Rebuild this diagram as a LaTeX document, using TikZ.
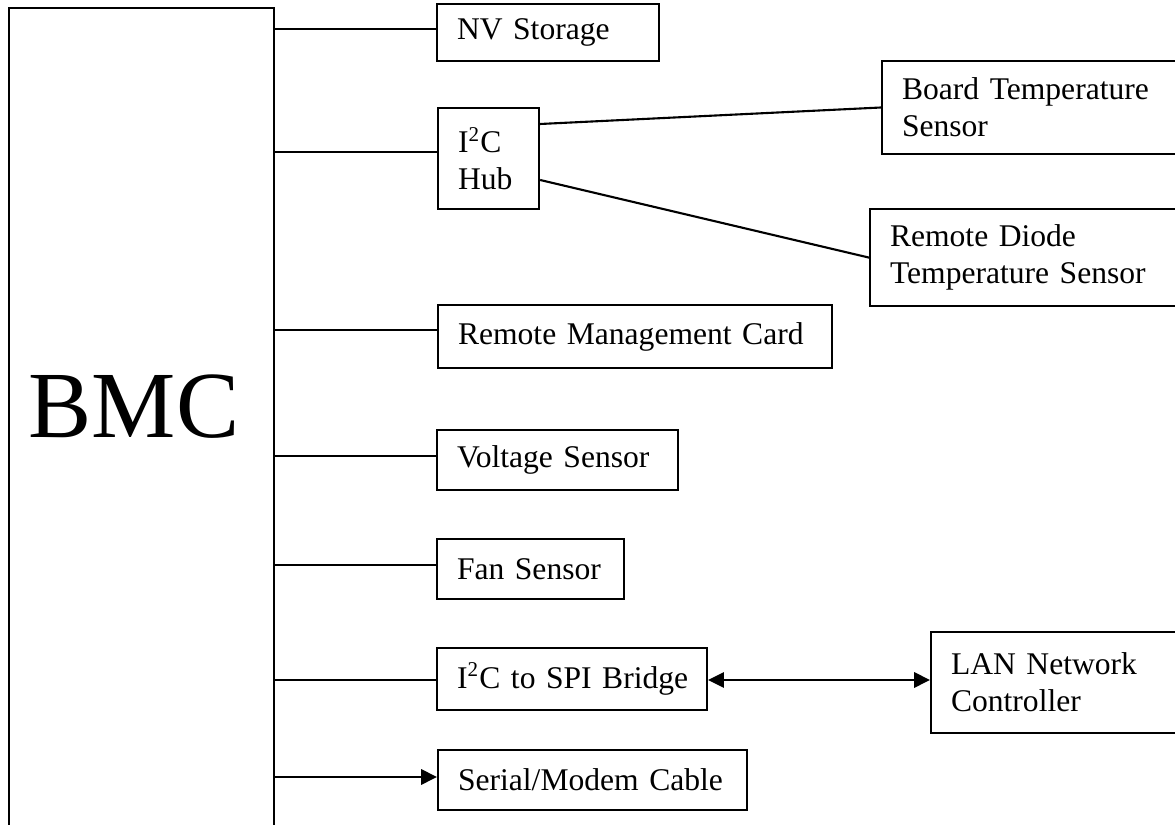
\documentclass[tikz,border=0pt]{standalone}
\usepackage{fontspec}
\setmainfont{Liberation Serif}
\usetikzlibrary{arrows.meta}
\tikzset{
  blk/.style={draw, line width=0.8pt, rectangle, anchor=north west, inner xsep=7.6pt, inner ysep=0pt, align=left, font=\fontsize{12}{14}\selectfont},
  conn/.style={line width=0.8pt},
  tip/.style={-{Triangle[length=6pt,width=5.8pt]}},
  dtip/.style={{Triangle[length=6pt,width=5.8pt]}-{Triangle[length=6pt,width=5.8pt]}}
}
\begin{document}
\begin{tikzpicture}[x=0.38pt, y=-0.38pt]
\useasboundingbox (0,0) rectangle (1175,825);
\clip (0,0) rectangle (1175,825);
% BMC
\node[draw, line width=0.8pt, anchor=north west, minimum width=100.7pt, minimum height=380pt, inner sep=0pt] (bmcbox) at (8,7) {};
\node[font=\fontsize{36}{43}\selectfont, inner sep=0pt] (bmc) at (134,407) {BMC};
% boxes
\node[blk, text width=69.2pt, minimum height=21.7pt] (nv) at (436,3) {\mbox{NV Storage}};
\node[blk, text width=23.2pt, minimum height=38.4pt] (hub) at (437,107) {\mbox{I\textsuperscript{2}C}\\Hub};
\node[blk, text width=125.4pt, minimum height=35.3pt] (board) at (881,60) {\mbox{Board Temperature}\\Sensor};
\node[blk, text width=130pt, minimum height=36.9pt] (diode) at (869,208) {\mbox{Remote Diode}\\\mbox{Temperature Sensor}};
\node[blk, text width=134.5pt, minimum height=23.9pt] (rmc) at (437,304) {\mbox{Remote Management Card}};
\node[blk, text width=76.4pt, minimum height=22.8pt] (volt) at (436,429) {\mbox{Voltage Sensor}};
\node[blk, text width=55.9pt, minimum height=22.8pt] (fan) at (436,538) {\mbox{Fan Sensor}};
\node[blk, text width=87.4pt, minimum height=23.6pt] (spi) at (436,647) {\mbox{I\textsuperscript{2}C to SPI Bridge}};
\node[blk, text width=106.4pt, minimum height=38.4pt] (lan) at (930,631) {\mbox{LAN Network}\\Controller};
\node[blk, text width=102.2pt, minimum height=22.8pt] (serial) at (437,749) {\mbox{Serial/Modem Cable}};
% connector levels
\coordinate (ynv) at (0,29);
\coordinate (yhub) at (0,152);
\coordinate (yrmc) at (0,330);
\coordinate (yvolt) at (0,456);
\coordinate (yfan) at (0,565);
\coordinate (yspi) at (0,680);
\coordinate (yser) at (0,777);
\coordinate (yhb) at (0,124);
\coordinate (yhd) at (0,180);
% connectors
\draw[conn] (bmcbox.east |- ynv) -- (nv.west |- ynv);
\draw[conn] (bmcbox.east |- yhub) -- (hub.west |- yhub);
\draw[conn] (bmcbox.east |- yrmc) -- (rmc.west |- yrmc);
\draw[conn] (bmcbox.east |- yvolt) -- (volt.west |- yvolt);
\draw[conn] (bmcbox.east |- yfan) -- (fan.west |- yfan);
\draw[conn] (bmcbox.east |- yspi) -- (spi.west |- yspi);
\draw[conn, tip] (bmcbox.east |- yser) -- (serial.west |- yser);
\draw[conn] (hub.east |- yhb) -- (board.west);
\draw[conn] (hub.east |- yhd) -- (diode.west);
\draw[conn, dtip] (spi.east |- yspi) -- (lan.west |- yspi);
\end{tikzpicture}
\end{document}
